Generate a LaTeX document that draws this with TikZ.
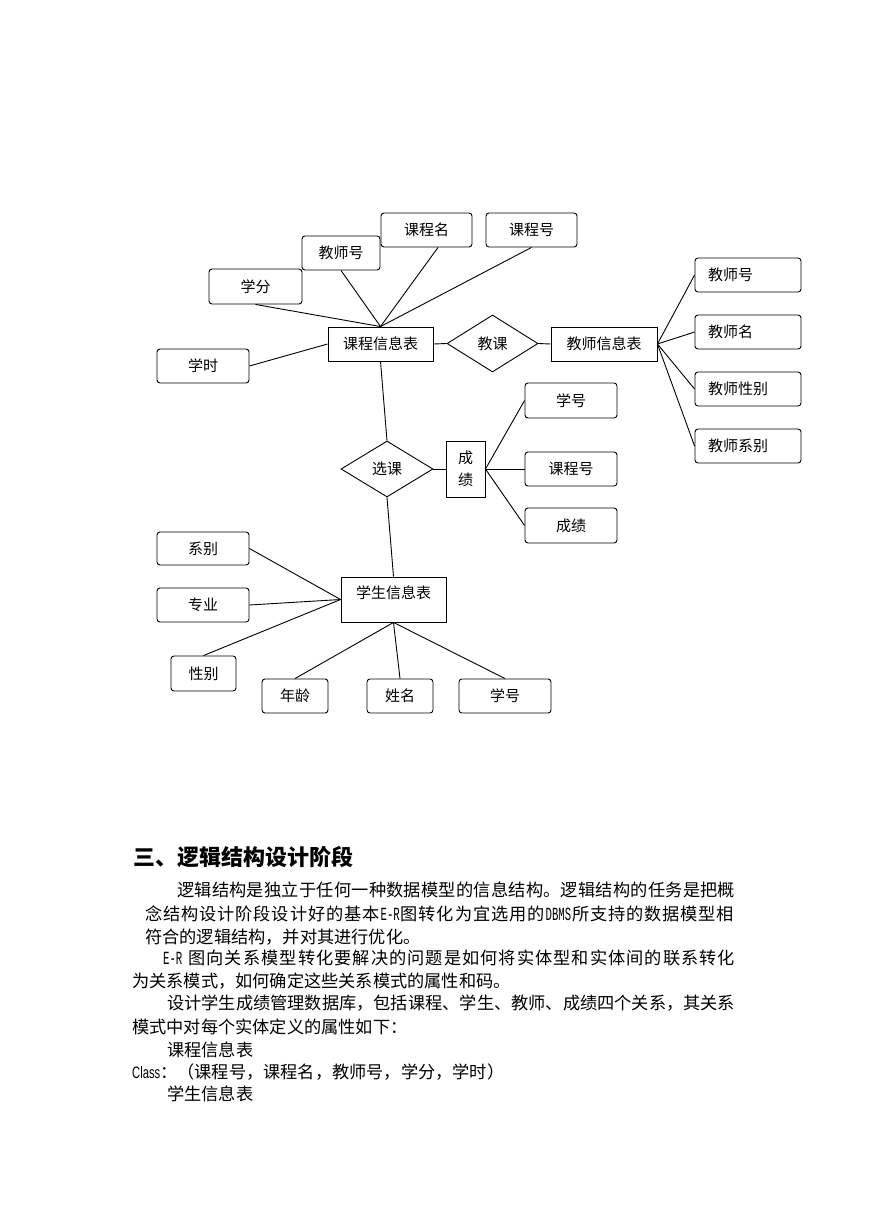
\documentclass[tikz,border=0pt]{standalone}
\usepackage{fontspec}
\usepackage{graphicx}
\usetikzlibrary{shapes.geometric,calc}
\newfontfamily\cjk{Noto Sans CJK SC}
\newfontfamily\latmono{Liberation Mono}
\newfontfamily\arialf{Liberation Sans}
\newcommand\dfont{\cjk\fontsize{15}{22}\selectfont}
\newcommand\bfont{\cjk\fontsize{17.2}{23}\selectfont}
\newcommand\ltn[1]{\scalebox{0.62}[1.08]{\latmono #1}}
\ExplSyntaxOn
\NewDocumentCommand\spreadit{m}{ \tl_map_inline:nn {#1} { ##1 \hskip 0pt plus 1fil } }
\ExplSyntaxOff
\newcommand\jline[2]{\hbox to #1{\spreadit{#2}\unskip}}
\tikzset{
  attr/.style={draw, rounded corners=3pt, line width=0.9pt, minimum height=34pt, inner sep=0pt, font=\dfont},
  lattr/.style={attr, inner xsep=13pt, text width=80pt, align=left},
  ent/.style={draw, line width=0.9pt, inner sep=0pt, font=\dfont},
  rel/.style={draw, diamond, line width=0.9pt, inner sep=0pt, font=\dfont},
  lnk/.style={line width=0.9pt},
  txt/.style={inner sep=0pt, anchor=base west, font=\bfont}
}
\begin{document}
\begin{tikzpicture}[x=1pt,y=-1pt]
\useasboundingbox[fill=white] (0,0) rectangle (869,1228);
% course entity and attributes
\node[attr, minimum width=91pt] (kcm) at (426.5,230) {课程名};
\node[attr, minimum width=91pt] (kch) at (531.5,230) {课程号};
\node[attr, minimum width=78pt] (jsh) at (341,253) {教师号};
\node[attr, minimum width=93pt, minimum height=35pt] (xf) at (255.5,286.5) {学分};
\node[attr, minimum width=92pt] (xs) at (203,366) {学时};
\node[ent, minimum width=105pt, minimum height=34pt] (kc) at (380.5,344) {课程信息表};
\node[rel, minimum width=91pt, minimum height=57pt] (jk) at (492.5,343.5) {教课};
\node[ent, minimum width=106pt, minimum height=34pt] (js) at (604,344) {教师信息表};
\node[lattr] (r1) at (748,275) {教师号};
\node[lattr] (r2) at (748,332) {教师名};
\node[lattr] (r3) at (748,389) {教师性别};
\node[lattr] (r4) at (748,446) {教师系别};
% selection relation
\node[rel, minimum width=92pt, minimum height=56pt] (xk) at (387,469) {选课};
\node[ent, minimum width=39pt, minimum height=56pt, align=center] (cj) at (465.5,469) {成\\绩};
\node[attr, minimum width=92pt, minimum height=35pt] (xh) at (571,400.5) {学号};
\node[attr, minimum width=92pt] (kh2) at (571,469) {课程号};
\node[attr, minimum width=92pt, minimum height=35pt] (cj2) at (571,525.5) {成绩};
% student entity
\node[ent, minimum width=105pt, inner ysep=4pt, text height=17.5pt, text depth=19.5pt] (xsb) at (393.5,599.5) {学生信息表};
\node[attr, minimum width=92pt, minimum height=33pt] (xb) at (203,548.5) {系别};
\node[attr, minimum width=92pt] (zy) at (203,605) {专业};
\node[attr, minimum width=65pt, minimum height=35pt] (xbie) at (203.5,673.5) {性别};
\node[attr, minimum width=66pt] (nl) at (295,696) {年龄};
\node[attr, minimum width=66pt] (xm) at (400,696) {姓名};
\node[attr, minimum width=92pt] (xh2) at (505,696) {学号};
% connectors
\draw[lnk] (xf.south) -- (kc.north);
\draw[lnk] (jsh.south) -- (kc.north);
\draw[lnk] ($(kcm.south)+(11.5,0)$) -- (kc.north);
\draw[lnk] (kch.south) -- (kc.north);
\draw[lnk] (xs.east) -- (kc.west);
\draw[lnk] (kc.east) -- (jk.west);
\draw[lnk] (jk.east) -- (js.west);
\draw[lnk] (js.east) -- (r1.west);
\draw[lnk] (js.east) -- (r2.west);
\draw[lnk] (js.east) -- (r3.west);
\draw[lnk] (js.east) -- (r4.west);
\draw[lnk] (kc.south) -- (xk.north);
\draw[lnk] (xk.east) -- (cj.west);
\draw[lnk] (cj.east) -- (xh.west);
\draw[lnk] (cj.east) -- (kh2.west);
\draw[lnk] (cj.east) -- (cj2.west);
\draw[lnk] (xk.south) -- (xsb.north);
\draw[lnk] (xsb.west) -- (xb.east);
\draw[lnk] (xsb.west) -- (zy.east);
\draw[lnk] (xsb.west) -- (xbie.north);
\draw[lnk] (xsb.south) -- (nl.north);
\draw[lnk] (xsb.south) -- (xm.north);
\draw[lnk] (xsb.south) -- (xh2.north);
% text section
\node[txt, font=\cjk\bfseries\fontsize{22}{26}\selectfont] (h) at (133,865.5) {三、逻辑结构设计阶段};
\node[txt] (t1) at (177,896.5) {\jline{558pt}{逻辑结构是独立于任何一种数据模型的信息结构。逻辑结构的任务是把概}};
\node[txt] (t2) at (145,920.5) {\jline{589pt}{念结构设计阶段设计好的基本{\ltn{E-R}}图转化为宜选用的{\ltn{DBMS}}所支持的数据模型相}};
\node[txt] (t3) at (145,943.5) {符合的逻辑结构，并对其进行优化。};
\node[txt] (t4) at (163,964.5) {\jline{572pt}{{\ltn{E-R}\hspace{5pt}}图向关系模型转化要解决的问题是如何将实体型和实体间的联系转化}};
\node[txt] (t5) at (132,987.5) {为关系模式，如何确定这些关系模式的属性和码。};
\node[txt] (t6) at (167,1009.5) {\jline{568pt}{设计学生成绩管理数据库，包括课程、学生、教师、成绩四个关系，其关系}};
\node[txt] (t7) at (132,1033.5) {模式中对每个实体定义的属性如下：};
\node[txt] (t8) at (167,1056.5) {课程信息表};
\node[txt] (t9) at (132,1078.5) {\scalebox{0.68}[1]{\arialf\fontsize{16.5}{16.5}\selectfont Class}：（课程号，课程名，教师号，学分，学时）};
\node[txt] (t10) at (167,1100.5) {学生信息表};
\end{tikzpicture}
\end{document}
